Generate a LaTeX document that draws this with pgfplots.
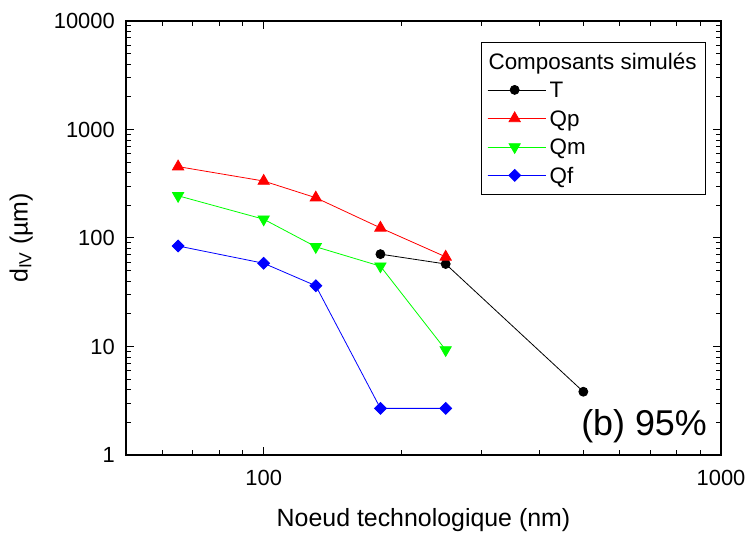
\documentclass[border=0pt]{standalone}
\usepackage{pgfplots}
\pgfplotsset{compat=1.18}
\usepackage{fontspec}
\setmainfont{Liberation Sans}
\begin{document}
\begin{tikzpicture}
\begin{axis}[
 scale only axis, width=595bp, height=434bp,
 xmode=log, ymode=log,
 xmin=50, xmax=1000, ymin=1, ymax=10000,
 log ticks with fixed point,
 /pgf/number format/1000 sep={},
 /pgf/number format/assume math mode=true,
 tick align=inside,
 major tick length=8bp, minor tick length=5bp,
 every tick/.append style={black, line width=1bp},
 every minor tick/.append style={black, line width=1bp},
 axis line style={line width=1.5bp},
 tick label style={font=\fontsize{22}{26}\selectfont},
 xticklabel style={anchor=base, yshift=-30bp},
 yticklabel style={anchor=east, inner sep=0pt, xshift=-11bp},
 xlabel={Noeud technologique (nm)},
 ylabel={d\textsubscript{IV} (µm)},
 label style={font=\fontsize{25}{30}\selectfont},
 xlabel style={at={(axis description cs:0.5,-0.1636)}, anchor=base},
 ylabel style={at={(axis description cs:-0.176,0.5)}, anchor=center},
 legend style={at={(rel axis cs:0.9748,0.9516)}, anchor=north east, draw=black, line width=0.8bp,
   inner xsep=5.5bp, inner ysep=4.75bp, font=\fontsize{22.5}{27}\selectfont,
   nodes={inner xsep=3.5bp, inner ysep=3.25bp, text height=19bp, text depth=3bp}, row sep=0pt},
 legend cell align=left,
 legend image code/.code={
   \path (0bp,0bp) -- (58bp,0bp);
   \draw[#1] (0bp,0bp) -- (19bp,0bp);
   \draw[#1] (36bp,0bp) -- (54bp,0bp);
   \draw[#1] plot[only marks] coordinates {(27bp,0bp)};},
]
\addlegendimage{empty legend}
\addlegendentry{\hspace*{-61bp}Composants simulés}
\addplot[black, line width=0.8bp, mark=*, mark size=4.5bp, mark options={solid}] coordinates {(180,71)(250,57.6)(500,3.83)};
\addlegendentry{T}
\addplot[red, line width=0.8bp, mark=triangle*, mark size=6.5bp] coordinates {(65,455)(100,335)(130,235)(180,124)(250,67)};
\addlegendentry{Qp}
\addplot[green, line width=0.8bp, mark=triangle*, mark size=6.5bp, mark options={rotate=180}] coordinates {(65,245)(100,149)(130,83)(180,55)(250,9.3)};
\addlegendentry{Qm}
\addplot[blue, line width=0.8bp, mark=square*, mark size=4.2bp, mark options={rotate=45}] coordinates {(65,84.4)(100,58.5)(130,36.3)(180,2.69)(250,2.69)};
\addlegendentry{Qf}
\node[anchor=base east, inner sep=0pt, font=\fontsize{36}{40}\selectfont] at (rel axis cs:0.9765,0.046) {(b) 95\%};
\end{axis}
\pgfresetboundingbox
\path (-126bp,-78bp) rectangle (623bp,455bp);
\end{tikzpicture}
\end{document}
